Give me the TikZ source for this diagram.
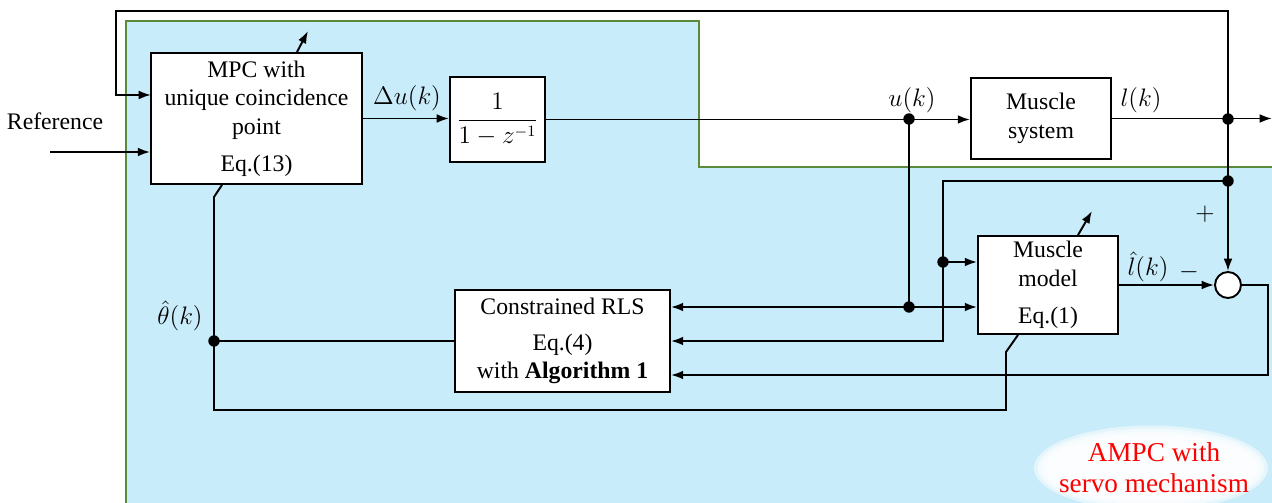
\documentclass[tikz,border=0pt]{standalone}
\usepackage[no-math]{fontspec}
\setmainfont{Liberation Serif}
\usepackage{amsmath}
\usetikzlibrary{arrows.meta}
\definecolor{servobg}{RGB}{201,236,250}
\definecolor{servoedge}{RGB}{90,138,58}

\begin{document}
\begin{tikzpicture}[x=0.02cm, y=-0.02cm, line width=1.1pt,
    >={Latex[length=7pt,width=5pt]},
    every node/.style={font=\fontsize{13.5}{16.2}\selectfont},
    block/.style={draw, fill=white, align=center, inner sep=0pt},
    tag/.style={inner sep=1pt},
    dot/.style={circle, fill, inner sep=0pt, minimum size=6.5pt}]
  \useasboundingbox (0,0) rectangle (1272,503);
  % servo mechanism area
  \fill[servobg] (126,503) -- (126,21) -- (699,21) -- (699,167) -- (1272,167) -- (1272,503) -- cycle;
  \draw[servoedge, line width=1.6pt] (126,503) -- (126,21) -- (699,21) -- (699,167) -- (1272,167);
  \foreach \k in {0,1,2,3}
    \fill[white, opacity=0.5] (1151,468) ellipse [x radius=2.34cm-\k*0.07cm, y radius=0.85cm-\k*0.06cm];
  \node[text=red, align=center, font=\fontsize{15.5}{17.5}\selectfont] (servo) at (1154,468) {AMPC with\\servo mechanism};

  % blocks
  \node[block, minimum width=4.22cm, minimum height=2.62cm] (mpc) at (256.5,118.5) {MPC with\\unique coincidence\\point\\[5pt]Eq.(13)};
  \node[block, minimum width=1.9cm, minimum height=1.7cm] (acc) at (497.5,119.5) {$\dfrac{1}{1-z^{-1}}$};
  \node[block, minimum width=2.8cm, minimum height=1.62cm] (sys) at (1041,118.5) {Muscle\\system};
  \node[block, minimum width=2.8cm, minimum height=1.96cm] (model) at (1048,285) {Muscle\\model\\[5pt]Eq.(1)};
  \node[block, minimum width=4.3cm, minimum height=2.04cm] (rls) at (562.5,341) {Constrained RLS\\[4pt]Eq.(4)\\with \textbf{Algorithm 1}};
  \node[circle, draw, fill=white, minimum size=0.52cm, inner sep=0pt] (sum) at (1228,285) {};

  % junctions
  \foreach \name/\x/\y in {ju/909/119, uu/909/307, jl/1228/119, jf/1228/181, jm/943/262, jt/214/341}
    \node[dot] (\name) at (\x,\y) {};
  \coordinate (ref) at (50,152);
  \coordinate (fbin) at (151,95);
  \coordinate (out) at (1272,119);
  \coordinate (c1) at (943,341);
  \coordinate (c2) at (1268,375);

  % labels
  \node[tag] (reflabel) at (55,121) {Reference};
  \node[tag] (dulabel) at (407,98) {$\Delta u(k)$};
  \node[tag] (ulabel) at (912,100) {$u(k)$};
  \node[tag] (llabel) at (1141,100) {$l(k)$};
  \node[tag] (lhat) at (1148,267) {$\hat{l}(k)$};
  \node[tag] (minus) at (1189,272) {$-$};
  \node[tag] (plus) at (1205,214) {$+$};
  \node[tag] (thlabel) at (180,316) {$\hat{\theta}(k)$};

  % signal lines
  \draw[->] (ref) -- (ref -| mpc.west);
  \draw[->] (jl.center) -- (1228,11) -| (116,95) -- (fbin);
  \draw[->] (mpc.east) -- (acc.west |- mpc.east);
  \draw[->] (acc.east) -- (acc.east -| sys.west);
  \draw[->] (sys.east) -- (sys.east -| out);
  \draw[->] (jl.center) -- (sum.north);
  \draw[->] (jf.center) -| (c1) -- (c1 -| rls.east);
  \draw[->] (jm.center) -- (jm -| model.west);
  \draw (ju.center) -- (uu.center);
  \draw[->] (uu.center) -- (uu -| rls.east);
  \draw[->] (uu.center) -- (uu -| model.west);
  \draw[->] (model.east) -- (sum.west);
  \draw[->] (sum.east) -| (c2) -- (c2 -| rls.east);
  \draw (rls.west) -- (jt.center);
  \draw ([xshift=-0.69cm]mpc.south) -- (214,197) -- (214,410) -| (1006,352) -- ([xshift=-0.6cm]model.south);

  % adaptation arrows
  \draw[->] ([xshift=0.81cm]mpc.north) -- ++(11,-21);
  \draw[->] ([xshift=0.6cm]model.north) -- ++(14,-24);
\end{tikzpicture}
\end{document}
